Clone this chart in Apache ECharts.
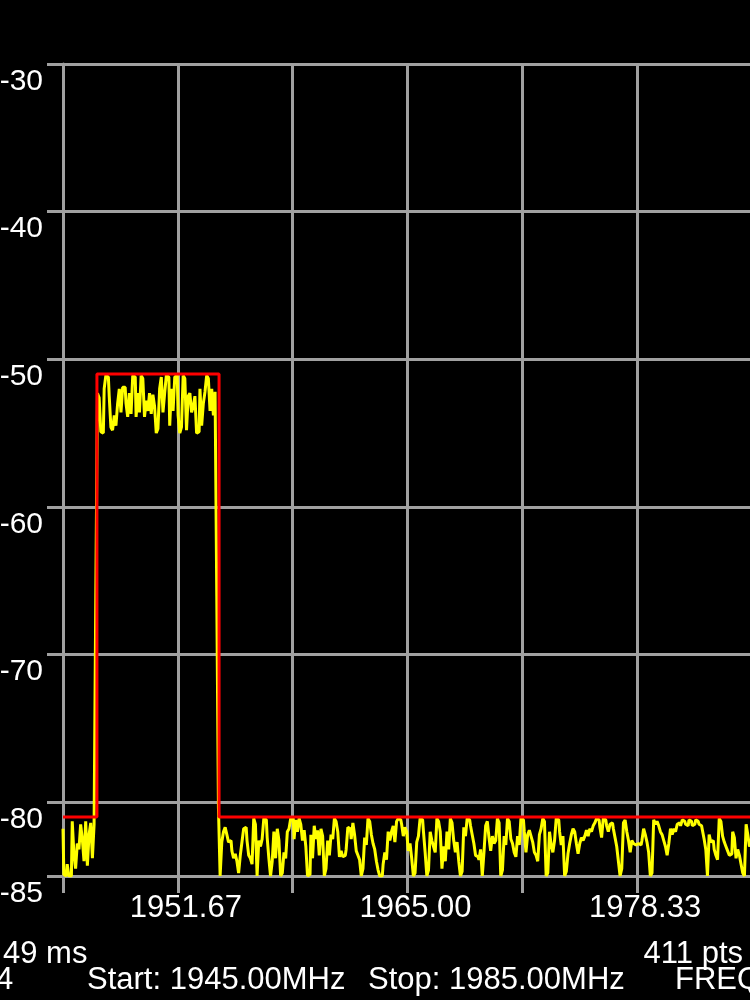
<!DOCTYPE html>
<html>
<head>
<meta charset="utf-8">
<script src="https://cdn.jsdelivr.net/npm/echarts@6/dist/echarts.min.js"></script>
<style>
html,body{margin:0;padding:0;background:#000;}
#chart{width:750px;height:1000px;}
</style>
</head>
<body>
<div id="chart"></div>
<script>
// ---- data ----
const startMHz = 1945;
const stopMHz = 1985;
const sweepPoints = 411;
const sweepTimeText = '49 ms';

const yTickValues = [-30, -40, -50, -60, -70, -80, -85];
const xTickValues = [1945, 1951.67, 1958.33, 1965, 1971.67, 1978.33, 1985];
const xLabelValues = [1951.67, 1965.00, 1978.33];

// limit line (red)
const limitFreq = [1945, 1946.97, 1946.97, 1954.06, 1954.06, 1985];
const limitDbm  = [-81, -81, -51, -51, -81, -81];

// trace (yellow), 411 sweep points
const noiseBeforeDbm = [-81.8, -84.9, -85.0, -84.2, -85.0, -85.0, -81.3, -83.5, -84.5, -82.8,
  -83.2, -81.5, -82.5, -84.0, -81.3, -84.3, -82.2, -81.4, -83.8, -81.5];
const riseEdgeDbm = [-66.1];
const signalDbm = [
  -52.3, -52.6, -54.9, -55.0, -52.0, -51.1, -51.2, -52.5, -54.6, -54.8,
  -53.8, -54.5, -53.0, -52.0, -53.6, -51.9, -51.9, -53.0, -53.9, -52.3,
  -53.7, -51.1, -51.2, -53.9, -52.3, -53.6, -51.1, -51.3, -53.9, -52.8,
  -53.5, -52.3, -53.7, -52.4, -53.2, -55.0, -54.7, -52.0, -51.2, -53.6,
  -52.3, -51.1, -51.2, -54.5, -52.0, -53.5, -51.2, -51.1, -53.8, -55.0,
  -54.6, -51.1, -51.3, -54.8, -52.5, -52.3, -53.6, -53.2, -52.5, -55.0,
  -54.9, -52.0, -54.5, -53.0, -52.2, -51.1, -51.3, -53.5, -52.0, -53.8,
  -52.2];
const fallEdgeDbm = [-66.0, -80.4];
const noiseAfterDbm = [
  -85.0, -82.7, -82.0, -81.7, -82.2, -82.7, -82.6,
  -83.3, -83.8, -83.5, -84.0, -84.8, -83.6, -82.7, -81.8, -81.7, -82.6,
  -83.6, -83.8, -84.2, -81.1, -81.5, -85.0, -82.6, -83.0, -82.5, -81.1,
  -81.2, -82.4, -83.8, -85.0, -84.0, -82.0, -83.8, -81.8, -82.6, -85.0,
  -84.8, -83.4, -83.8, -82.0, -81.8, -81.1, -81.1, -82.5, -81.2, -82.0,
  -81.1, -81.5, -82.6, -81.9, -83.0, -85.0, -84.9, -82.2, -83.8, -81.6,
  -82.5, -81.9, -83.6, -81.8, -82.3, -85.0, -84.5, -82.6, -83.6, -82.2,
  -82.5, -81.1, -81.3, -82.0, -83.7, -83.3, -83.7, -83.6, -83.2, -81.7,
  -81.8, -82.5, -81.4, -82.2, -83.3, -83.6, -83.9, -85.0, -84.5, -82.4,
  -82.9, -81.1, -81.3, -82.2, -82.8, -83.2, -84.0, -84.6, -85.0, -85.0,
  -84.2, -83.4, -83.9, -82.0, -82.6, -82.0, -81.6, -82.7, -81.3, -81.1,
  -81.2, -81.5, -82.3, -81.7, -82.0, -83.3, -82.8, -83.8, -85.0, -84.8,
  -82.7, -82.3, -81.1, -81.2, -82.0, -83.4, -85.0, -84.6, -82.0, -82.6,
  -83.0, -83.4, -81.1, -81.3, -82.0, -84.5, -83.0, -84.0, -82.0, -83.2,
  -81.1, -81.4, -82.6, -83.4, -82.7, -84.0, -85.0, -84.7, -81.7, -82.3,
  -81.1, -81.2, -81.6, -82.2, -82.8, -83.6, -83.7, -83.9, -83.2, -85.0,
  -83.4, -81.6, -81.3, -82.4, -83.3, -82.3, -82.8, -82.6, -81.1, -81.4,
  -85.0, -84.6, -82.3, -82.9, -81.1, -81.3, -82.5, -82.8, -83.4, -83.7,
  -82.3, -82.9, -81.1, -81.2, -82.0, -83.4, -82.2, -81.9, -82.3, -82.7,
  -83.4, -83.6, -84.0, -82.2, -81.8, -81.1, -81.3, -85.0, -84.8, -82.0,
  -82.9, -83.4, -82.6, -81.1, -81.2, -82.0, -82.9, -82.3, -85.0, -84.7,
  -83.5, -82.8, -82.2, -81.8, -82.0, -82.8, -83.5, -82.8, -82.4, -82.6,
  -82.3, -81.9, -82.3, -81.8, -82.0, -81.6, -81.4, -81.1, -81.2, -81.7,
  -82.4, -81.1, -81.2, -81.6, -82.0, -81.5, -81.4, -81.8, -82.4, -83.0, -84.0,
  -85.0, -84.5, -81.4, -81.2, -82.0, -82.6, -83.4, -82.6, -82.8, -82.9,
  -82.8, -82.7, -82.9, -82.6, -81.8, -82.2, -82.7, -83.4, -85.0, -84.8,
  -81.2, -81.5, -81.3, -81.6, -82.0, -82.2, -82.6, -83.0, -83.6, -82.8,
  -81.8, -82.2, -81.8, -82.0, -81.5, -81.4, -81.6, -81.2, -81.3, -81.5,
  -81.6, -81.2, -81.3, -81.6, -81.5, -81.2, -81.3, -81.5, -81.6, -81.9,
  -82.5, -83.2, -85.0, -82.2, -82.7, -82.6, -83.2, -83.6, -83.9, -81.1,
  -81.3, -82.3, -82.7, -83.0, -83.3, -83.6, -83.5, -82.0, -82.4, -83.8,
  -83.2, -83.6, -84.2, -84.8, -85.0, -81.5, -82.2, -83.0, -82.8];

// ---- build ----
const traceDbm = [].concat(noiseBeforeDbm, riseEdgeDbm, signalDbm, fallEdgeDbm, noiseAfterDbm);
const step = (stopMHz - startMHz) / (sweepPoints - 1);
const traceData = traceDbm.map((v, i) => [startMHz + i * step, v]);
const limitData = limitFreq.map((f, i) => [f, limitDbm[i]]);

const GRID = '#a0a0a0';
const FONT = 'Liberation Sans';
const lineStyle = { color: GRID, width: 3 };

const chart = echarts.init(document.getElementById('chart'), null, { renderer: 'canvas' });
chart.setOption({
  backgroundColor: '#000',
  animation: false,
  grid: { left: 63, top: 64, right: -2, bottom: 124, containLabel: false, outerBoundsMode: 'none' },
  xAxis: {
    type: 'value', min: startMHz, max: stopMHz,
    axisLine: { show: true, lineStyle: lineStyle, onZero: false },
    axisTick: { show: true, length: 17, customValues: xTickValues, lineStyle: lineStyle },
    splitLine: { show: true, lineStyle: lineStyle },
    axisLabel: {
      customValues: xLabelValues, color: '#fff', fontFamily: FONT, fontSize: 31,
      margin: 17, padding: [0, 0, 0, 16],
      formatter: v => Number(v).toFixed(2)
    }
  },
  yAxis: {
    type: 'value', min: -85, max: -30,
    axisLine: { show: true, lineStyle: lineStyle, onZero: false },
    axisTick: { show: true, length: 16, customValues: yTickValues, lineStyle: lineStyle },
    splitLine: { show: true, lineStyle: lineStyle },
    axisLabel: {
      customValues: yTickValues, color: '#fff', fontFamily: FONT, fontSize: 30,
      margin: 20, verticalAlign: 'top', lineHeight: 31, padding: [2, 0, 0, 0]
    }
  },
  series: [
    {
      type: 'line', data: traceData, showSymbol: false, z: 3, step: 'middle',
      lineStyle: { color: '#ffff00', width: 3 }
    },
    {
      type: 'line', data: limitData, showSymbol: false, z: 4,
      lineStyle: { color: '#ff0000', width: 3 }
    }
  ],
  graphic: [
    { type: 'text', left: 3, top: 939, style: { text: sweepTimeText, fill: '#fff', fontFamily: FONT, fontSize: 31 } },
    { type: 'text', right: 7, top: 939, style: { text: sweepPoints + ' pts', fill: '#fff', fontFamily: FONT, fontSize: 31 } },
    { type: 'text', left: -4, top: 965, style: { text: '4', fill: '#fff', fontFamily: FONT, fontSize: 31 } },
    { type: 'text', left: 87, top: 965, style: { text: 'Start: ' + startMHz.toFixed(2) + 'MHz', fill: '#fff', fontFamily: FONT, fontSize: 31 } },
    { type: 'text', left: 368, top: 965, style: { text: 'Stop: ' + stopMHz.toFixed(2) + 'MHz', fill: '#fff', fontFamily: FONT, fontSize: 31 } },
    { type: 'text', left: 675, top: 965, style: { text: 'FREQ', fill: '#fff', fontFamily: FONT, fontSize: 31 } }
  ]
});
</script>
</body>
</html>
